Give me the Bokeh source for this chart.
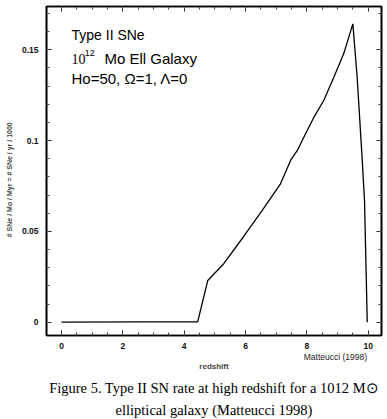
import math
from bokeh.plotting import figure
from bokeh.models import (Label, LinearAxis, Range1d, CustomJSTickFormatter,
                          SingleIntervalTicker, FixedTicker, Title)
from bokeh.embed import file_html
from bokeh.resources import INLINE

# ---- data ----
redshift = [0.0, 2.6, 4.44, 4.77, 5.29, 5.94, 6.54, 7.14, 7.47, 7.69, 7.90,
            8.23, 8.55, 8.88, 9.20, 9.50, 9.64, 9.80, 9.88, 9.97]
rate = [0.0, 0.0002, 0.0002, 0.023, 0.0322, 0.0472, 0.0615, 0.0762, 0.0891,
        0.0946, 0.1019, 0.1129, 0.1221, 0.1349, 0.1478, 0.1643, 0.1349,
        0.0909, 0.067, 0.0]
x_ticks = [0, 2, 4, 6, 8, 10]
y_ticks = [0, 0.05, 0.1, 0.15]

title_lines = ["Type II SNe", "Mo  Ell Galaxy", "Ho=50, \u03a9=1, \u039b=0"]
caption_lines = ["Figure 5. Type II SN rate at high redshift for a 1012 M\u2299",
                 "elliptical galaxy (Matteucci 1998)"]
credit = "Matteucci (1998)"
credit_pos = [8.93]
y_label = "# SNe / Mo / Myr = # SNe / yr / 1000"

p = figure(width=387, height=419, output_backend="svg", toolbar_location=None,
           x_range=Range1d(-0.489, 10.434), y_range=Range1d(-0.00732, 0.17386),
           x_axis_location=None, y_axis_location=None,
           min_border_left=46, min_border_right=6, min_border_top=6,
           min_border_bottom=84)
p.grid.visible = False
p.outline_line_color = "black"
p.outline_line_width = 1.6
p.background_fill_color = "white"
p.border_fill_color = "white"

fmt = CustomJSTickFormatter(code="""
var s = tick.toFixed(2);
s = s.replace(/0+$/, '').replace(/\\.$/, '');
return s;
""")
blank = CustomJSTickFormatter(code="return '';")

def style_axis(ax, show_labels):
    ax.axis_line_width = 1.6
    ax.axis_line_color = "black"
    ax.major_tick_in = 5
    ax.major_tick_out = 0
    ax.minor_tick_in = 3
    ax.minor_tick_out = 0
    ax.major_tick_line_color = "#222222"
    ax.minor_tick_line_color = "#444444"
    ax.major_tick_line_width = 1
    ax.minor_tick_line_width = 1
    if show_labels:
        ax.major_label_text_font = "Liberation Sans"
        ax.major_label_text_font_style = "bold"
        ax.major_label_text_font_size = "8.5px"
        ax.major_label_text_color = "#111111"
    else:
        ax.formatter = blank
        ax.major_label_standoff = 0

bx = LinearAxis(ticker=SingleIntervalTicker(interval=2, num_minor_ticks=4))
style_axis(bx, True)
bx.major_label_standoff = 7
p.add_layout(bx, "below")

# second bottom axis carrying the credit and the "redshift" label
cx = LinearAxis(ticker=FixedTicker(ticks=credit_pos),
                major_label_overrides={credit_pos[0]: credit})
cx.axis_line_color = None
cx.major_tick_line_color = None
cx.minor_tick_line_color = None
cx.major_tick_in = 0
cx.major_tick_out = 0
cx.major_label_standoff = 0
cx.major_label_text_font = "Liberation Sans"
cx.major_label_text_font_size = "8.5px"
cx.major_label_text_color = "#222222"
cx.axis_label = "redshift"
cx.axis_label_text_font = "Liberation Sans"
cx.axis_label_text_font_style = "bold"
cx.axis_label_text_font_size = "8px"
cx.axis_label_standoff = -3
p.add_layout(cx, "below")

tx = LinearAxis(ticker=SingleIntervalTicker(interval=2, num_minor_ticks=4))
style_axis(tx, False)
p.add_layout(tx, "above")

ly = LinearAxis(ticker=SingleIntervalTicker(interval=0.05, num_minor_ticks=5),
                formatter=fmt)
style_axis(ly, True)
ly.major_label_standoff = 8
ly.axis_label = y_label + "\u00a0" * 9
ly.axis_label_text_font = "Liberation Sans"
ly.axis_label_text_font_style = "bold"
ly.axis_label_text_font_size = "7px"
ly.axis_label_standoff = 6
p.add_layout(ly, "left")

ry = LinearAxis(ticker=SingleIntervalTicker(interval=0.05, num_minor_ticks=5))
style_axis(ry, False)
p.add_layout(ry, "right")

# caption lines (titles below the plot)
for line, gap in zip(caption_lines, [8, 1]):
    t = Title(text=line, align="center", text_font="Liberation Serif",
              text_font_size="14.5px", text_font_style="normal",
              text_color="black", standoff=gap)
    p.add_layout(t, "below")

p.line(redshift, rate, line_color="black", line_width=1.3)

def lab(x, y, text, size, font="Liberation Sans", style="normal"):
    p.add_layout(Label(x=x, y=y, text=text, text_font=font,
                       text_font_size=size, text_font_style=style,
                       text_align="left", text_baseline="middle",
                       text_color="black"))

# in-plot annotation
lab(0.326, 0.15844, title_lines[0], "14px")
lab(0.326, 0.14522, "10", "14px", font="Liberation Serif")
lab(0.76, 0.14852, "12", "9px")
lab(1.40, 0.14522, title_lines[1], "15px")
lab(0.326, 0.1342, title_lines[2], "15px")

open("out.html", "w").write(file_html(p, INLINE))
